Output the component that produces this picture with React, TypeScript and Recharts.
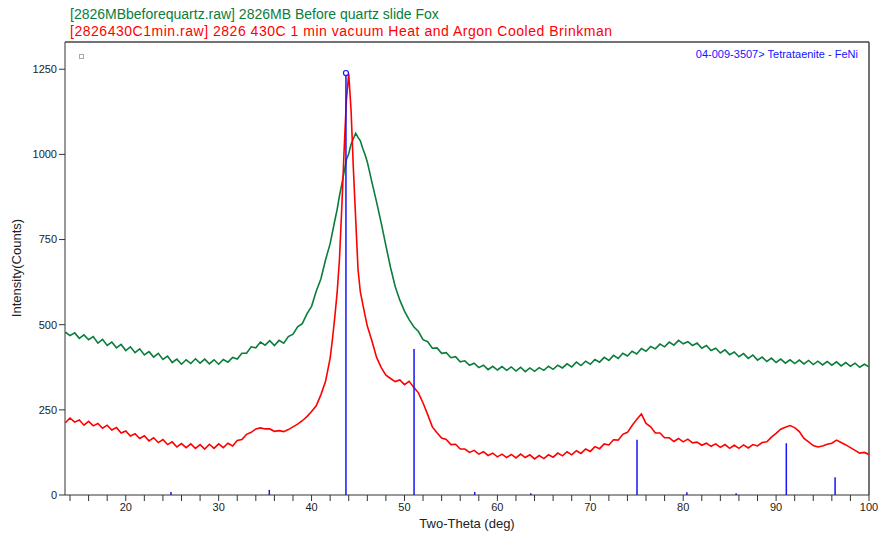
import React from "react";
import {
  ComposedChart,
  Line,
  XAxis,
  YAxis,
  ReferenceLine,
  ReferenceDot,
} from "recharts";

const GREEN = "#0a7d3c";
const RED = "#ff0000";
const BLUE = "#1414ff";
const FONT = "'Liberation Sans', Arial, sans-serif";

// two-theta positions (deg)
const twoTheta = [
  13.5, 14, 14.5, 15, 15.5, 16, 16.5, 17, 17.5, 18,
  18.5, 19, 19.5, 20, 20.5, 21, 21.5, 22, 22.5, 23,
  23.5, 24, 24.5, 25, 25.5, 26, 26.5, 27, 27.5, 28,
  28.5, 29, 29.5, 30, 30.5, 31, 31.5, 32, 32.5, 33,
  33.5, 34, 34.5, 35, 35.5, 36, 36.5, 37, 37.5, 38,
  38.5, 39, 39.5, 40, 40.5, 41, 41.5,
  42, 42.25, 42.5, 42.75, 43, 43.25, 43.5, 43.75, 44, 44.25, 44.5, 44.75, 45, 45.25, 45.5, 45.75, 46,
  46.5, 47, 47.5, 48, 48.5, 49, 49.5, 50, 50.5, 51,
  51.5, 52, 52.5, 53, 53.5, 54, 54.5, 55, 55.5, 56,
  56.5, 57, 57.5, 58, 58.5, 59, 59.5, 60, 60.5, 61,
  61.5, 62, 62.5, 63, 63.5, 64, 64.5, 65, 65.5, 66,
  66.5, 67, 67.5, 68, 68.5, 69, 69.5, 70, 70.5, 71,
  71.5, 72, 72.5, 73, 73.5, 74, 74.5, 75, 75.5, 76,
  76.5, 77, 77.5, 78, 78.5, 79, 79.5, 80, 80.5, 81,
  81.5, 82, 82.5, 83, 83.5, 84, 84.5, 85, 85.5, 86,
  86.5, 87, 87.5, 88, 88.5, 89, 89.5, 90, 90.5, 91,
  91.5, 92, 92.5, 93, 93.5, 94, 94.5, 95, 95.5, 96,
  96.5, 97, 97.5, 98, 98.5, 99, 99.5, 100,
];

// [2826MBbeforequartz.raw]
const beforeQuartz = [
  478, 468, 476, 460, 470, 456, 465, 446, 457, 439,
  449, 432, 442, 424, 435, 418, 429, 411, 421, 405,
  416, 398, 408, 389, 399, 384, 397, 386, 400, 387,
  399, 385, 397, 384, 398, 390, 404, 399, 416, 416,
  435, 432, 449, 440, 453, 439, 454, 446, 465, 472,
  494, 503, 532, 554, 598, 634, 690,
  738, 772, 806, 838, 878, 912, 948, 985, 1002, 1030, 1046, 1062, 1050, 1040, 1018, 1000, 978,
  918, 860, 798, 732, 668, 612, 572, 540, 515, 494,
  480, 456, 450, 431, 432, 416, 418, 403, 406, 391,
  394, 381, 387, 374, 381, 368, 378, 367, 377, 366,
  376, 364, 375, 362, 373, 363, 374, 366, 378, 369,
  381, 373, 385, 376, 390, 380, 393, 384, 398, 390,
  404, 395, 410, 401, 416, 408, 422, 414, 430, 422,
  436, 429, 443, 435, 449, 440, 454, 444, 450, 439,
  446, 431, 439, 424, 431, 417, 426, 412, 420, 406,
  415, 401, 411, 396, 405, 392, 402, 389, 399, 387,
  397, 386, 396, 385, 395, 383, 393, 382, 392, 381,
  391, 379, 389, 378, 387, 375, 384, 376,
];

// [2826430C1min.raw]
const after430C = [
  212, 226, 214, 220, 205, 216, 203, 210, 196, 205,
  191, 198, 182, 188, 173, 180, 166, 174, 159, 168,
  154, 163, 148, 156, 141, 151, 139, 150, 137, 148,
  135, 149, 137, 150, 139, 152, 144, 160, 163, 178,
  184, 194, 197, 194, 194, 187, 189, 186, 192, 200,
  208, 218, 230, 245, 262, 294, 333,
  402, 458, 522, 594, 690, 842, 1010, 1160, 1237, 1130, 958, 810, 662, 596, 562, 528, 496,
  452, 404, 374, 352, 342, 333, 338, 324, 334, 316,
  300, 270, 236, 200, 183, 167, 163, 148, 149, 135,
  135, 125, 131, 120, 127, 116, 123, 112, 120, 110,
  119, 109, 120, 110, 118, 106, 116, 107, 118, 111,
  123, 115, 127, 118, 130, 122, 135, 128, 142, 136,
  150, 147, 162, 161, 178, 184, 204, 222, 238, 210,
  200, 182, 182, 168, 168, 157, 166, 156, 164, 153,
  155, 146, 152, 143, 150, 140, 148, 137, 146, 137,
  147, 138, 148, 144, 154, 156, 170, 181, 193, 199,
  204, 198, 186, 166, 156, 145, 141, 144, 149, 152,
  161, 154, 147, 139, 131, 123, 125, 119,
];

// 04-009-3507 Tetrataenite - FeNi stick pattern
const stickPos = [24.87, 35.45, 43.7, 51.03, 57.56, 63.6, 75.03, 80.4, 85.7, 91.1, 96.35];
const stickInt = [9, 15, 1239, 429, 9, 5, 162, 8, 5, 152, 52];

const xTicks = [
  14, 16, 18, 20, 22, 24, 26, 28, 30, 32, 34, 36, 38, 40, 42, 44, 46, 48, 50,
  52, 54, 56, 58, 60, 62, 64, 66, 68, 70, 72, 74, 76, 78, 80, 82, 84, 86, 88,
  90, 92, 94, 96, 98, 100,
];
const yTicks = [0, 250, 500, 750, 1000, 1250];

const data = twoTheta.map((x, i) => ({
  x,
  before: beforeQuartz[i],
  after: after430C[i],
}));

const tickStyle = { fontSize: 11, fill: "#222", fontFamily: FONT };

export default function App() {
  return (
    <div
      style={{
        position: "absolute",
        left: 0,
        top: 0,
        width: 878,
        height: 534,
        background: "#fff",
        fontFamily: FONT,
      }}
    >
      <ComposedChart
        width={878}
        height={534}
        data={data}
        margin={{ top: 42, right: 9, bottom: 0, left: 0 }}
      >
        <XAxis
          dataKey="x"
          type="number"
          domain={[13.46, 100]}
          allowDataOverflow
          ticks={xTicks}
          interval={0}
          tickFormatter={(v: number) => (v % 10 === 0 ? String(v) : "")}
          tick={tickStyle}
          tickSize={6}
          tickMargin={2}
          height={39}
          stroke="#333"
        />
        <YAxis
          type="number"
          domain={[0, 1330]}
          allowDataOverflow
          ticks={yTicks}
          interval={0}
          tick={tickStyle}
          tickSize={6}
          tickMargin={2}
          width={65}
          stroke="#333"
        />
        <ReferenceLine y={1330} stroke="#444" strokeWidth={1.5} />
        <ReferenceLine x={100} stroke="#444" strokeWidth={1.5} />
        <Line
          dataKey="before"
          type="linear"
          stroke={GREEN}
          strokeWidth={1.6}
          dot={false}
          isAnimationActive={false}
        />
        <Line
          dataKey="after"
          type="linear"
          stroke={RED}
          strokeWidth={1.6}
          dot={false}
          isAnimationActive={false}
        />
        {stickPos.map((p, i) => (
          <ReferenceLine
            key={p}
            segment={[
              { x: p, y: 0 },
              { x: p, y: stickInt[i] },
            ]}
            stroke={BLUE}
            strokeWidth={1.5}
          />
        ))}
        <ReferenceDot
          x={stickPos[2]}
          y={stickInt[2]}
          r={2.5}
          fill="#fff"
          stroke={BLUE}
          strokeWidth={1.2}
        />
      </ComposedChart>
      <svg
        width={878}
        height={534}
        style={{ position: "absolute", left: 0, top: 0, pointerEvents: "none" }}
      >
        <text x={70} y={19} fontSize={14} fill={GREEN} fontFamily={FONT}>
          [2826MBbeforequartz.raw] 2826MB Before quartz slide Fox
        </text>
        <text x={70} y={36} fontSize={14} fill={RED} fontFamily={FONT} textLength={542} lengthAdjust="spacing">
          [2826430C1min.raw] 2826 430C 1 min vacuum Heat and Argon Cooled Brinkman
        </text>
        <text x={858} y={58} fontSize={11} fill={BLUE} fontFamily={FONT} textAnchor="end">
          04-009-3507&gt; Tetrataenite - FeNi
        </text>
        <rect x={79.5} y={54.5} width={4} height={4} fill="none" stroke="#aaa" strokeWidth={1} />
        <text x={467} y={528} fontSize={13} fill="#222" fontFamily={FONT} textAnchor="middle">
          Two-Theta (deg)
        </text>
        <text
          x={0}
          y={0}
          fontSize={13}
          fill="#222"
          fontFamily={FONT}
          textAnchor="middle"
          transform="translate(21,268) rotate(-90)"
        >
          Intensity(Counts)
        </text>
      </svg>
    </div>
  );
}
